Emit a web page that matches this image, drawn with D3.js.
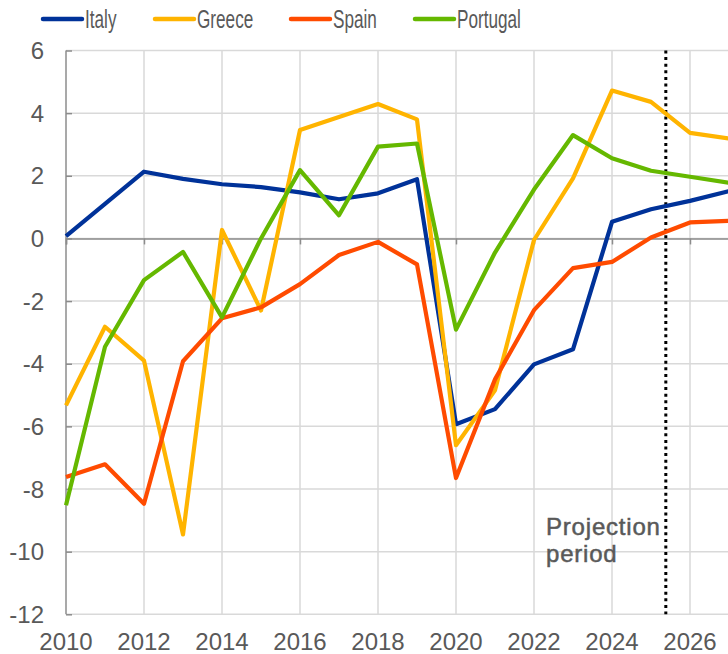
<!DOCTYPE html>
<html>
<head>
<meta charset="utf-8">
<script src="https://cdn.jsdelivr.net/npm/d3@7"></script>
<style>
  html, body { margin: 0; padding: 0; background: #fff; }
  svg { display: block; }
  text { font-family: "Liberation Sans", Arial, sans-serif; fill: #595959; }
</style>
</head>
<body>
<svg id="chart" width="728" height="654"></svg>
<script>
const years = d3.range(2010, 2028);
const italy    = [0.07, 1.1, 2.13, 1.9, 1.73, 1.64, 1.47, 1.25, 1.44, 1.89, -5.93, -5.45, -4.02, -3.54, 0.53, 0.93, 1.2, 1.51];
const greece   = [-5.33, -2.82, -3.9, -9.45, 0.27, -2.3, 3.46, 3.88, 4.29, 3.8, -6.6, -4.85, -0.05, 1.92, 4.72, 4.36, 3.37, 3.19];
const spain    = [-7.62, -7.21, -8.47, -3.92, -2.55, -2.2, -1.46, -0.53, -0.11, -0.83, -7.65, -4.5, -2.29, -0.95, -0.75, 0.03, 0.51, 0.56];
const portugal = [-8.52, -3.46, -1.33, -0.43, -2.52, 0.0, 2.18, 0.74, 2.93, 3.03, -2.91, -0.45, 1.56, 3.3, 2.56, 2.16, 1.97, 1.78];
const seriesNames = ["Italy", "Greece", "Spain", "Portugal"];
const seriesColors = ["#003299", "#FFB400", "#FF4B00", "#65B800"];
const yTicks = [-12, -10, -8, -6, -4, -2, 0, 2, 4, 6];
const xTicks = [2010, 2012, 2014, 2016, 2018, 2020, 2022, 2024, 2026];
const projectionStart = 2025.38;
const projectionLabel = ["Projection", "period"];

const seriesValues = [italy, greece, spain, portugal];

const svg = d3.select("#chart");
const x = d3.scaleLinear().domain([2010, 2027]).range([66, 729]);
const y = d3.scaleLinear().domain([-12, 6]).range([614.3, 50.5]);

// gridlines
const grid = svg.append("g");
grid.selectAll("line.h").data(yTicks).join("line")
  .attr("x1", x(2010)).attr("x2", 728)
  .attr("y1", d => y(d)).attr("y2", d => y(d))
  .attr("stroke", "#d9d9d9").attr("stroke-width", 1.5);
grid.selectAll("line.v").data(xTicks.filter(d => d > 2010)).join("line")
  .attr("x1", d => x(d)).attr("x2", d => x(d))
  .attr("y1", y(6)).attr("y2", y(-12))
  .attr("stroke", "#d9d9d9").attr("stroke-width", 1.5);

// zero axis with ticks downward
const xAxis = d3.axisBottom(x).tickValues(xTicks).tickSize(6).tickFormat("");
const gx = svg.append("g").attr("transform", `translate(0,${y(0)})`).call(xAxis);
gx.select(".domain").attr("stroke", "#8c8c8c").attr("stroke-width", 1.5);
gx.selectAll(".tick line").attr("stroke", "#8c8c8c").attr("stroke-width", 1.5);

// x labels at bottom
svg.append("g").selectAll("text").data(xTicks).join("text")
  .attr("x", d => x(d)).attr("y", 650)
  .attr("text-anchor", "middle").attr("font-size", 24)
  .text(d => d);

// y axis
const yAxis = d3.axisRight(y).tickValues(yTicks).tickSize(6).tickFormat("");
const gy = svg.append("g").attr("transform", `translate(${x(2010)},0)`).call(yAxis);
gy.select(".domain").attr("stroke", "#8c8c8c").attr("stroke-width", 1.5).attr("d", `M0,${y(6)}V${y(-12)}`);
gy.selectAll(".tick line").attr("stroke", "#8c8c8c").attr("stroke-width", 1.5);
svg.append("g").selectAll("text").data(yTicks).join("text")
  .attr("x", 44).attr("y", d => y(d)).attr("dy", "0.36em")
  .attr("text-anchor", "end").attr("font-size", 24)
  .text(d => d);

// projection line
svg.append("line")
  .attr("x1", x(projectionStart)).attr("x2", x(projectionStart))
  .attr("y1", y(6)).attr("y2", y(-12))
  .attr("stroke", "#000").attr("stroke-width", 3)
  .attr("stroke-dasharray", "3,3.6");

svg.append("g").selectAll("text").data(projectionLabel).join("text")
  .attr("x", 546).attr("y", (d, i) => 535 + i * 27)
  .attr("font-size", 24).attr("letter-spacing", "0.8px")
  .attr("stroke", "#595959").attr("stroke-width", 0.5)
  .text(d => d);

// series lines
const line = d3.line().x((d, i) => x(years[i])).y(d => y(d));
svg.append("g").selectAll("path").data(seriesValues).join("path")
  .attr("d", d => line(d))
  .attr("fill", "none")
  .attr("stroke", (d, i) => seriesColors[i])
  .attr("stroke-width", 4.2)
  .attr("stroke-linejoin", "round");

// legend
const legendX = [43, 155, 291, 415];
const lg = svg.append("g").selectAll("g").data(seriesNames).join("g")
  .attr("transform", (d, i) => `translate(${legendX[i]},19)`);
lg.append("line").attr("x1", 0).attr("x2", 39).attr("y1", 0).attr("y2", 0)
  .attr("stroke", (d, i) => seriesColors[i]).attr("stroke-width", 4.5).attr("stroke-linecap", "round");
lg.append("text").attr("transform", "translate(42,9) scale(0.66,1)")
  .attr("font-size", 26).text(d => d);
</script>
</body>
</html>
